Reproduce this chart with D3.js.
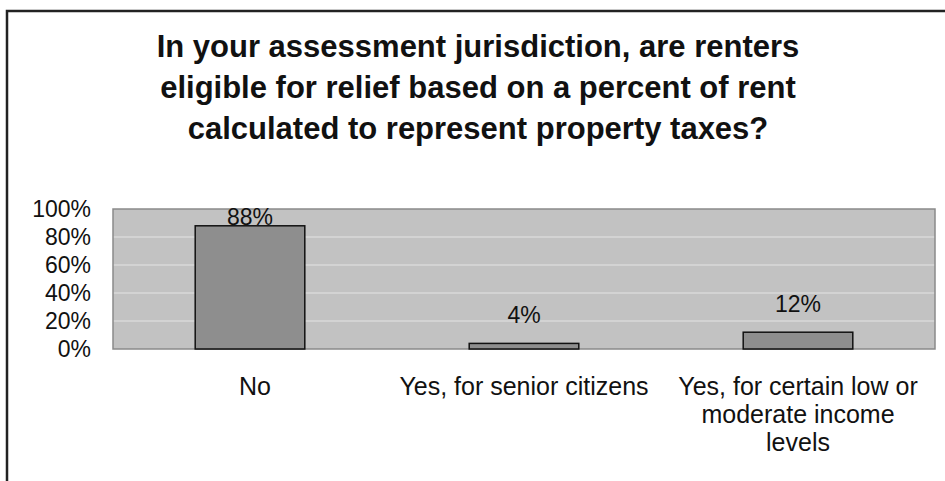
<!DOCTYPE html>
<html>
<head>
<meta charset="utf-8">
<script src="https://cdn.jsdelivr.net/npm/d3@7"></script>
<style>
    body { margin: 0; background: #fff; }
    text { font-family: "Liberation Sans", Arial, sans-serif; fill: #111; }
</style>
</head>
<body>
<svg id="chart" width="945" height="481"></svg>
<script>
let titleLines = [
    "In your assessment jurisdiction, are renters",
    "eligible for relief based on a percent of rent",
    "calculated to represent property taxes?"
];
let categories = ["No", "Yes, for senior citizens", "Yes, for certain low or moderate income levels"];
let categoryLines = [
    ["No"],
    ["Yes, for senior citizens"],
    ["Yes, for certain low or", "moderate income", "levels"]
];
let values = [0.88, 0.04, 0.12];
let yTicks = [0, 0.2, 0.4, 0.6, 0.8, 1.0];

let svg = d3.select("#chart");
let plot = { left: 113, right: 935, top: 209, bottom: 349 };

// -- outer frame -- //
svg.append("path")
    .attr("d", `M7,481 V11 H945`)
    .style("fill", "none")
    .style("stroke", "#222")
    .style("stroke-width", 2.5);

// -- title -- //
svg.append("g").selectAll("text")
    .data(titleLines)
    .enter()
    .append("text")
    .attr("x", 478)
    .attr("y", (d, i) => 57 + i * 41)
    .attr("text-anchor", "middle")
    .style("font-size", "31px")
    .style("font-weight", "bold")
    .text(d => d);

// -- scales -- //
let xScale = d3.scaleBand()
    .domain(categories)
    .range([plot.left, plot.right])
    .paddingInner(0.6)
    .paddingOuter(0.3);
let yScale = d3.scaleLinear()
    .domain([0, 1])
    .range([plot.bottom, plot.top]);

// -- plot background and gridlines -- //
svg.append("rect")
    .attr("x", plot.left)
    .attr("y", plot.top)
    .attr("width", plot.right - plot.left)
    .attr("height", plot.bottom - plot.top)
    .style("fill", "#c2c2c2");

svg.append("g").selectAll("line")
    .data(yTicks.slice(1, -1))
    .enter()
    .append("line")
    .attr("x1", plot.left)
    .attr("x2", plot.right)
    .attr("y1", d => yScale(d))
    .attr("y2", d => yScale(d))
    .style("stroke", "#d8d8d8")
    .style("stroke-width", 1.5);

svg.append("rect")
    .attr("x", plot.left)
    .attr("y", plot.top)
    .attr("width", plot.right - plot.left)
    .attr("height", plot.bottom - plot.top)
    .style("fill", "none")
    .style("stroke", "#8a8a8a")
    .style("stroke-width", 1.5);

// -- y axis -- //
let yAxis = d3.axisLeft(yScale)
    .tickValues(yTicks)
    .tickFormat(d3.format(".0%"))
    .tickSize(0)
    .tickPadding(22);
let yAxisG = svg.append("g")
    .attr("transform", `translate(${plot.left}, 0)`)
    .call(yAxis);
yAxisG.select(".domain").remove();
yAxisG.selectAll("text")
    .style("font-size", "23px")
    .style("font-family", "'Liberation Sans', Arial, sans-serif")
    .attr("fill", "#111");

// -- bars -- //
svg.selectAll(".bar")
    .data(values)
    .enter()
    .append("rect")
    .attr("class", "bar")
    .attr("x", (d, i) => xScale(categories[i]))
    .attr("y", d => yScale(d))
    .attr("width", xScale.bandwidth())
    .attr("height", d => plot.bottom - yScale(d))
    .style("fill", "#8e8e8e")
    .style("stroke", "#111")
    .style("stroke-width", 1.5);

// -- data labels -- //
svg.selectAll(".valueLabel")
    .data(values)
    .enter()
    .append("text")
    .attr("class", "valueLabel")
    .attr("x", (d, i) => xScale(categories[i]) + xScale.bandwidth() / 2)
    .attr("y", d => Math.max(yScale(d) - 20, plot.top + 16))
    .attr("text-anchor", "middle")
    .style("font-size", "23px")
    .text(d => d3.format(".0%")(d));

// -- category labels -- //
let catG = svg.append("g").selectAll("text")
    .data(categoryLines)
    .enter()
    .append("text")
    .attr("text-anchor", "middle")
    .style("font-size", "25px")
    .attr("transform", (d, i) => `translate(${xScale(categories[i]) + xScale.bandwidth() / 2 + (i === 0 ? 5 : 0)}, 395)`);
catG.selectAll("tspan")
    .data(d => d)
    .enter()
    .append("tspan")
    .attr("x", 0)
    .attr("y", (d, i) => i * 28)
    .text(d => d);
</script>
</body>
</html>
